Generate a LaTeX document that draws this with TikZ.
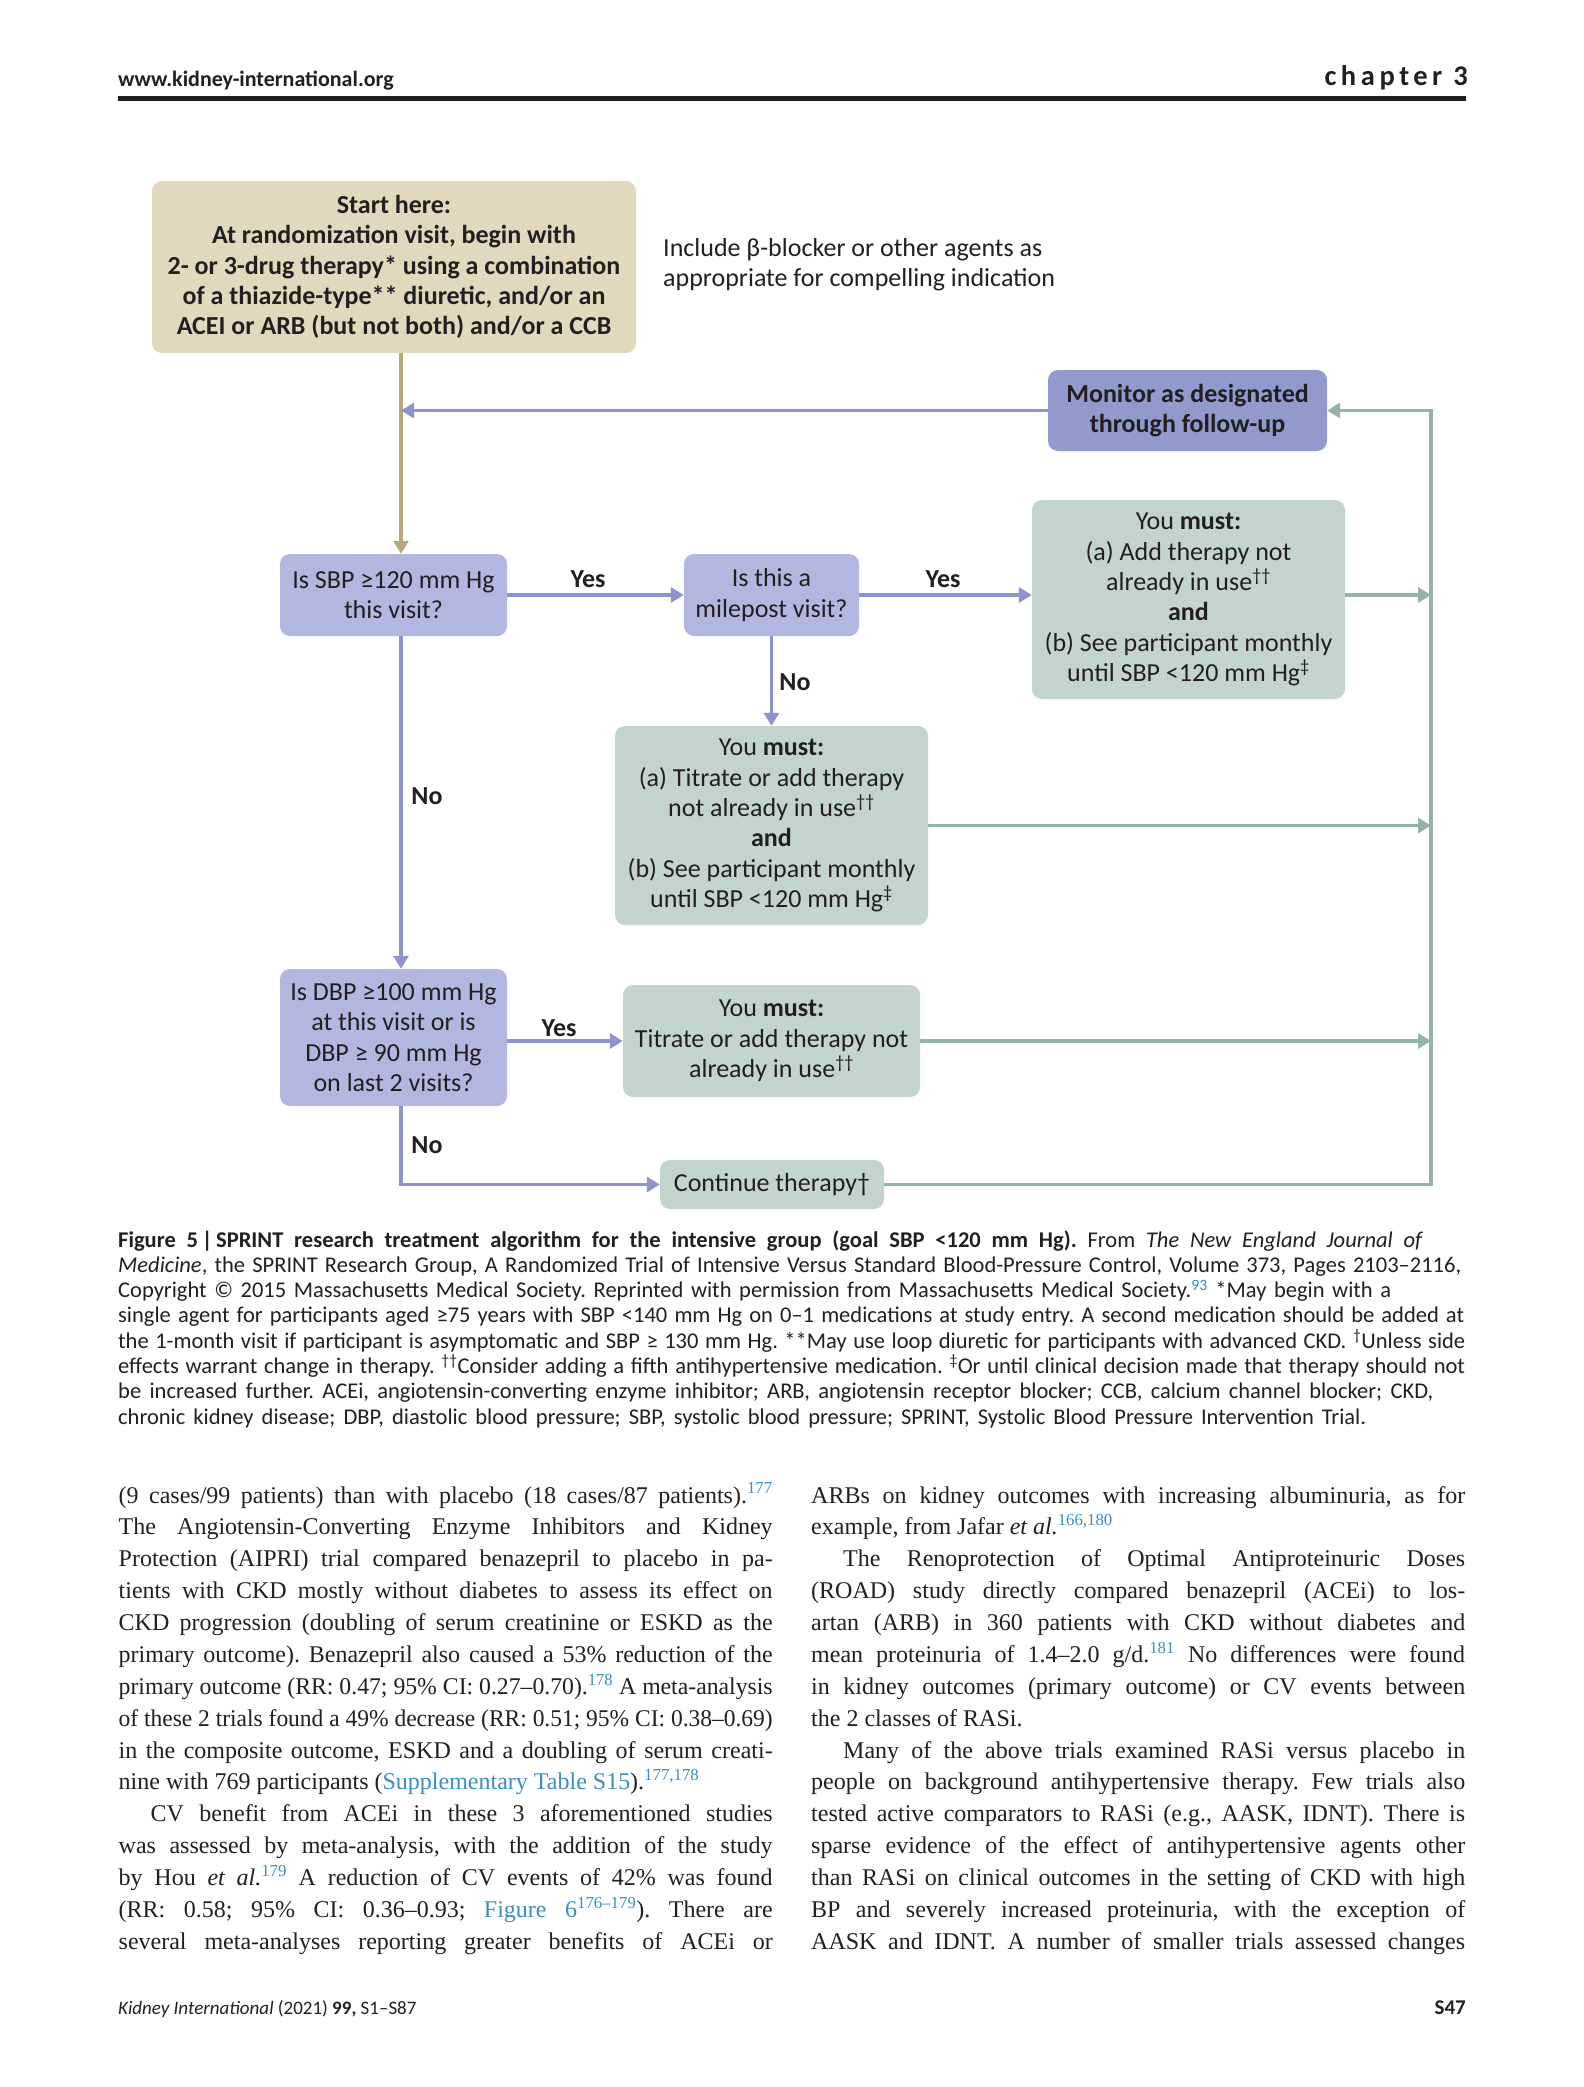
\documentclass[tikz,border=0pt]{standalone}
\usepackage{fontspec}
\usepackage{graphicx}
\usetikzlibrary{arrows.meta}
\setmainfont{Liberation Serif}
\newfontfamily\cfont{Carlito}
\newfontfamily\cspaced[LetterSpace=16]{Carlito}
\frenchspacing
\definecolor{ink}{HTML}{231F20}
\definecolor{tanfill}{HTML}{E2D8BE}
\definecolor{tanline}{HTML}{B7A77A}
\definecolor{monfill}{HTML}{9299CC}
\definecolor{qfill}{HTML}{B3B7E0}
\definecolor{pline}{HTML}{8E93CB}
\definecolor{gfill}{HTML}{C3D3CE}
\definecolor{gline}{HTML}{96B3AB}
\definecolor{refblue}{HTML}{3B8DC5}
\newlength\fitw
\newlength\colw
\setlength\colw{654pt}
\newcommand\fitline[2]{\settowidth\fitw{#2}\ifdim\fitw>#1\relax\resizebox{#1}{\height}{#2}\else\hbox to #1{#2}\fi}
\newcommand\boxfont{\cfont\fontsize{26}{30.3}\selectfont}
\newcommand\capfont{\cfont\fontsize{22.5}{25}\selectfont}
\newcommand\bodyfont{\fontsize{24}{32}\selectfont}
\newcommand\sref[1]{\textsuperscript{\color{refblue}#1}}
\tikzset{
  box/.style={rounded corners=10pt, inner sep=0pt, align=center, font=\boxfont, text=ink},
  startbox/.style={box, fill=tanfill, minimum width=484pt, minimum height=172pt},
  monbox/.style={box, fill=monfill, minimum width=279pt, minimum height=81pt},
  qbox/.style={box, fill=qfill},
  gbox/.style={box, fill=gfill},
  lbl/.style={inner sep=0pt, font=\boxfont\bfseries, text=ink},
  parrow/.style={draw=pline, line width=3.5pt, -{Triangle[length=13pt,width=15pt]}},
  garrow/.style={draw=gline, line width=3.5pt, -{Triangle[length=13pt,width=15pt]}},
  tanarrow/.style={draw=tanline, line width=3.5pt, -{Triangle[length=13pt,width=15pt]}},
  txt/.style={inner sep=0pt, anchor=base west, text=ink},
}
\begin{document}
\begin{tikzpicture}[x=1pt,y=-1pt]
\fill[white] (0,0) rectangle (1583,2087);
\useasboundingbox (0,0) rectangle (1583,2087);
% header
\node[txt] (hdr) at (118,87) {\cfont\bfseries\fontsize{22}{24}\selectfont www.kidney-international.org};
\node[inner sep=0pt, anchor=base east, text=ink] (chap) at (1468,86) {\cspaced\bfseries\fontsize{28.5}{30}\selectfont chapter 3};
\draw[line width=4.5pt, ink] (118,98.5) -- (1466,98.5);
% coordinates
\coordinate (L) at (401,0);
\coordinate (R) at (1431,0);
% boxes
\node[startbox, font=\boxfont\bfseries] (start) at (394,267) {Start here:\\At randomization visit, begin with\\2- or 3-drug therapy* using a combination\\of a thiazide-type** diuretic, and/or an\\ACEI or ARB (but not both) and/or a CCB};
\node[inner sep=0pt, anchor=west, align=left, font=\boxfont, text=ink] (incl) at (663,265) {Include β-blocker or other agents as\\appropriate for compelling indication};
\node[monbox, font=\boxfont\bfseries] (mon) at (1187.5,410.5) {Monitor as designated\\through follow-up};
\node[qbox, minimum width=227pt, minimum height=82pt] (sbp) at (393.5,595) {Is SBP ≥120 mm Hg\\this visit?};
\node[qbox, minimum width=175pt, minimum height=82pt] (mile) at (771.5,595) {Is this a\\milepost visit?};
\node[gbox, minimum width=313pt, minimum height=199pt] (add) at (1188.5,599.5) {You \textbf{must:}\\(a) Add therapy not\\already in use\textsuperscript{††}\\\textbf{and}\\(b) See participant monthly\\until SBP <120 mm Hg\textsuperscript{‡}};
\node[gbox, minimum width=313pt, minimum height=199pt] (titr) at (771.5,825.5) {You \textbf{must:}\\(a) Titrate or add therapy\\not already in use\textsuperscript{††}\\\textbf{and}\\(b) See participant monthly\\until SBP <120 mm Hg\textsuperscript{‡}};
\node[qbox, minimum width=227pt, minimum height=137pt] (dbp) at (393.5,1037.5) {Is DBP ≥100 mm Hg\\at this visit or is\\DBP ≥ 90 mm Hg\\on last 2 visits?};
\node[gbox, minimum width=297pt, minimum height=112pt] (titr2) at (771.5,1041) {You \textbf{must:}\\Titrate or add therapy not\\already in use\textsuperscript{††}};
\node[gbox, minimum width=224pt, minimum height=49pt] (cont) at (772,1184.5) {Continue therapy†};
% connectors
\draw[tanarrow] (start.south -| L) -- (sbp.north -| L);
\draw[parrow] (mon.west) -- (mon.west -| L);
\draw[parrow] (sbp.east) -- (mile.west);
\draw[parrow] (mile.east) -- (mile.east -| add.west);
\draw[parrow] (mile.south) -- (titr.north);
\draw[parrow] (sbp.south -| L) -- (dbp.north -| L);
\draw[parrow] (titr2.west -| dbp.east) -- (titr2.west);
\draw[parrow] (dbp.south -| L) |- (cont.west);
\draw[garrow] (mile.east -| add.east) -- (mile.east -| R);
\draw[garrow] (titr.east) -- (titr.east -| R);
\draw[garrow] (titr2.east) -- (titr2.east -| R);
\draw[garrow] (cont.east) -| (mon.east -| R) -- (mon.east);
% labels
\node[lbl] (y1) at (588,579) {Yes};
\node[lbl] (y2) at (943,579) {Yes};
\node[lbl] (y3) at (559,1028) {Yes};
\node[lbl] (n1) at (795,682) {No};
\node[lbl] (n2) at (427,796) {No};
\node[lbl] (n3) at (427,1145) {No};
% caption
\node[txt] (c1) at (118,1247) {\capfont\fitline{1305pt}{\textbf{Figure 5\,|\,SPRINT research treatment algorithm for the intensive group (goal SBP <120 mm Hg).} From \textit{The New England Journal of}}};
\node[txt] (c2) at (118,1272.3) {\capfont\fitline{1343pt}{\textit{Medicine}, the SPRINT Research Group, A Randomized Trial of Intensive Versus Standard Blood-Pressure Control, Volume 373, Pages 2103–2116,}};
\node[txt] (c3) at (118,1297.6) {\capfont\fitline{1273pt}{Copyright © 2015 Massachusetts Medical Society. Reprinted with permission from Massachusetts Medical Society.\sref{93} *May begin with a}};
\node[txt] (c4) at (118,1322.9) {\capfont\fitline{1346pt}{single agent for participants aged ≥75 years with SBP <140 mm Hg on 0–1 medications at study entry. A second medication should be added at}};
\node[txt] (c5) at (118,1348.2) {\capfont\fitline{1347pt}{the 1-month visit if participant is asymptomatic and SBP ≥ 130 mm Hg. **May use loop diuretic for participants with advanced CKD. \textsuperscript{†}Unless side}};
\node[txt] (c6) at (118,1373.5) {\capfont\fitline{1347pt}{effects warrant change in therapy. \textsuperscript{††}Consider adding a fifth antihypertensive medication. \textsuperscript{‡}Or until clinical decision made that therapy should not}};
\node[txt] (c7) at (118,1398.8) {\capfont\fitline{1315pt}{be increased further. ACEi, angiotensin-converting enzyme inhibitor; ARB, angiotensin receptor blocker; CCB, calcium channel blocker; CKD,}};
\node[txt] (c8) at (118,1424.1) {\capfont\fitline{1248pt}{chronic kidney disease; DBP, diastolic blood pressure; SBP, systolic blood pressure; SPRINT, Systolic Blood Pressure Intervention Trial.}};
% left column
\node[txt] (l1) at (118.5,1503) {\bodyfont\fitline{\colw}{(9 cases/99 patients) than with placebo (18 cases/87 patients).\sref{177}}};
\node[txt] (l2) at (118.5,1534.9) {\bodyfont\fitline{\colw}{The Angiotensin-Converting Enzyme Inhibitors and Kidney}};
\node[txt] (l3) at (118.5,1566.7) {\bodyfont\fitline{\colw}{Protection (AIPRI) trial compared benazepril to placebo in pa-}};
\node[txt] (l4) at (118.5,1598.6) {\bodyfont\fitline{\colw}{tients with CKD mostly without diabetes to assess its effect on}};
\node[txt] (l5) at (118.5,1630.5) {\bodyfont\fitline{\colw}{CKD progression (doubling of serum creatinine or ESKD as the}};
\node[txt] (l6) at (118.5,1662.3) {\bodyfont\fitline{\colw}{primary outcome). Benazepril also caused a 53\% reduction of the}};
\node[txt] (l7) at (118.5,1694.2) {\bodyfont\fitline{\colw}{primary outcome (RR: 0.47; 95\% CI: 0.27–0.70).\sref{178} A meta-analysis}};
\node[txt] (l8) at (118.5,1726.1) {\bodyfont\fitline{\colw}{of these 2 trials found a 49\% decrease (RR: 0.51; 95\% CI: 0.38–0.69)}};
\node[txt] (l9) at (118.5,1758) {\bodyfont\fitline{\colw}{in the composite outcome, ESKD and a doubling of serum creati-}};
\node[txt] (l10) at (118.5,1789.8) {\bodyfont nine with 769 participants ({\color{refblue}Supplementary Table S15}).\sref{177,178}};
\node[txt] (l11) at (118.5,1821.7) {\bodyfont\fitline{\colw}{\hspace*{32pt}CV benefit from ACEi in these 3 aforementioned studies}};
\node[txt] (l12) at (118.5,1853.6) {\bodyfont\fitline{\colw}{was assessed by meta-analysis, with the addition of the study}};
\node[txt] (l13) at (118.5,1885.4) {\bodyfont\fitline{\colw}{by Hou \textit{et al.}\sref{179} A reduction of CV events of 42\% was found}};
\node[txt] (l14) at (118.5,1917.3) {\bodyfont\fitline{\colw}{(RR: 0.58; 95\% CI: 0.36–0.93; {\color{refblue}Figure 6}\sref{176–179}). There are}};
\node[txt] (l15) at (118.5,1949.2) {\bodyfont\fitline{\colw}{several meta-analyses reporting greater benefits of ACEi or}};
% right column
\node[txt] (r1) at (811,1503) {\bodyfont\fitline{\colw}{ARBs on kidney outcomes with increasing albuminuria, as for}};
\node[txt] (r2) at (811,1534.9) {\bodyfont example, from Jafar \textit{et al.}\sref{166,180}};
\node[txt] (r3) at (811,1566.7) {\bodyfont\fitline{\colw}{\hspace*{32pt}The Renoprotection of Optimal Antiproteinuric Doses}};
\node[txt] (r4) at (811,1598.6) {\bodyfont\fitline{\colw}{(ROAD) study directly compared benazepril (ACEi) to los-}};
\node[txt] (r5) at (811,1630.5) {\bodyfont\fitline{\colw}{artan (ARB) in 360 patients with CKD without diabetes and}};
\node[txt] (r6) at (811,1662.3) {\bodyfont\fitline{\colw}{mean proteinuria of 1.4–2.0 g/d.\sref{181} No differences were found}};
\node[txt] (r7) at (811,1694.2) {\bodyfont\fitline{\colw}{in kidney outcomes (primary outcome) or CV events between}};
\node[txt] (r8) at (811,1726.1) {\bodyfont the 2 classes of RASi.};
\node[txt] (r9) at (811,1758) {\bodyfont\fitline{\colw}{\hspace*{32pt}Many of the above trials examined RASi versus placebo in}};
\node[txt] (r10) at (811,1789.8) {\bodyfont\fitline{\colw}{people on background antihypertensive therapy. Few trials also}};
\node[txt] (r11) at (811,1821.7) {\bodyfont\fitline{\colw}{tested active comparators to RASi (e.g., AASK, IDNT). There is}};
\node[txt] (r12) at (811,1853.6) {\bodyfont\fitline{\colw}{sparse evidence of the effect of antihypertensive agents other}};
\node[txt] (r13) at (811,1885.4) {\bodyfont\fitline{\colw}{than RASi on clinical outcomes in the setting of CKD with high}};
\node[txt] (r14) at (811,1917.3) {\bodyfont\fitline{\colw}{BP and severely increased proteinuria, with the exception of}};
\node[txt] (r15) at (811,1949.2) {\bodyfont\fitline{\colw}{AASK and IDNT. A number of smaller trials assessed changes}};
% footer
\node[txt] (foot) at (118,2014) {\cfont\fontsize{19}{21}\selectfont\textit{Kidney International} (2021) \textbf{99,} S1–S87};
\node[inner sep=0pt, anchor=base east, text=ink] (pg) at (1466,2014) {\cfont\bfseries\fontsize{21}{23}\selectfont S47};
\end{tikzpicture}
\end{document}
